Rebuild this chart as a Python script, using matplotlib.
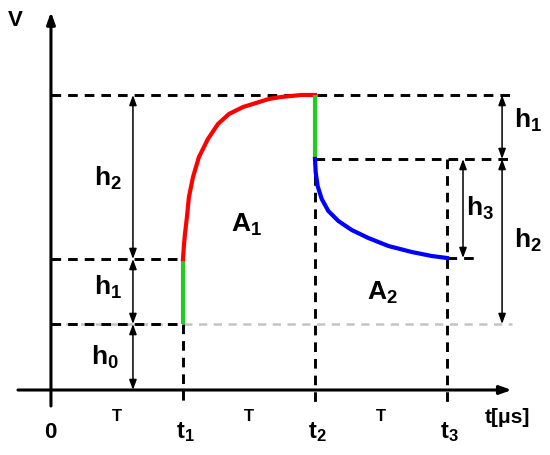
import numpy as np
import matplotlib
matplotlib.use('Agg')
import matplotlib.pyplot as plt

plt.rcParams['font.family'] = 'Liberation Sans'
plt.rcParams['font.weight'] = 'bold'
plt.rcParams['mathtext.fontset'] = 'custom'
plt.rcParams['mathtext.bf'] = 'Liberation Sans:bold'
plt.rcParams['mathtext.rm'] = 'Liberation Sans:bold'

# time in units of T, voltage in arbitrary units
t_marks = [1.0, 2.0, 3.0]
t_labels = [r'$\mathbf{t_1}$', r'$\mathbf{t_2}$', r'$\mathbf{t_3}$']
v_h0 = 66
v_h1 = 131
v_top = 295
v_mid = 231

# rising curve (red)
red_t = [1.0, 1.008, 1.015, 1.03, 1.045, 1.076, 1.121, 1.189, 1.265,
         1.348, 1.455, 1.553, 1.65, 1.742, 1.894, 2.0]
red_v = [131, 146, 156, 173, 193, 213, 233, 251, 266,
         276, 283, 287, 291, 293, 295, 295]
# falling curve (blue)
blue_t = [2.0, 2.005, 2.02, 2.051, 2.101, 2.177, 2.278, 2.404, 2.556,
          2.733, 2.884, 3.0]
blue_v = [231, 218, 204, 191, 179, 169, 160, 152, 144, 138, 134, 132]

fig = plt.figure(figsize=(5.5, 4.56), dpi=100)
ax = fig.add_axes([0, 0, 1, 1])
ax.set_xlim(-0.386, 3.78)
ax.set_ylim(-65, 391)
ax.axis('off')

dash = dict(color='black', lw=2.1, linestyle=(0, (3.3, 2.4)))
gray = dict(color='#c4c4c4', lw=1.8, linestyle=(0, (3.3, 2.6)))

# gray baseline at h0
ax.plot([0, 3.49], [v_h0, v_h0], **gray)
ax.plot([0, 1], [v_h0, v_h0], **dash)
# horizontal dashed
ax.plot([0, 3.5], [v_top, v_top], **dash)
ax.plot([2, 3.48], [v_mid, v_mid], **dash)
ax.plot([0, 1], [v_h1, v_h1], **dash)
ax.plot([3, 3.23], [blue_v[-1], blue_v[-1]], **dash)
# vertical dashed
ax.plot([1, 1], [v_h0, -14], **dash)
ax.plot([2, 2], [v_mid, -14], **dash)
ax.plot([3, 3], [v_mid, -14], **dash)

# axes
ax.annotate('', xy=(3.49, 0), xytext=(-0.25, 0),
            arrowprops=dict(arrowstyle='-|>,head_length=0.7,head_width=0.25',
                            color='black', lw=2.2, shrinkA=0, shrinkB=0))
ax.annotate('', xy=(0, 378), xytext=(0, -16),
            arrowprops=dict(arrowstyle='-|>,head_length=0.7,head_width=0.25',
                            color='black', lw=2.2, shrinkA=0, shrinkB=0))

# signal
ax.plot([1, 1], [v_h0, v_h1], color='#22cc22', lw=3, solid_capstyle='butt')
ax.plot(red_t, red_v, color='red', lw=3, solid_joinstyle='round')
ax.plot([2, 2], [v_top, v_mid], color='#22cc22', lw=3, solid_capstyle='butt')
ax.plot(blue_t, blue_v, color='blue', lw=3, solid_joinstyle='round')


def dim(x, y0, y1):
    ax.annotate('', xy=(x, y1), xytext=(x, y0),
                arrowprops=dict(arrowstyle='<|-|>,head_length=0.6,head_width=0.22',
                                color='black', lw=1.1, shrinkA=0, shrinkB=0))


dim(0.621, v_h1, v_top)
dim(0.621, v_h0, v_h1)
dim(0.621, 0, v_h0)
dim(3.417, v_mid, v_top)
dim(3.417, v_h0, v_mid)
dim(3.121, blue_v[-1], v_mid)

big = 19
ax.text(-0.273, 371, 'V', fontsize=16, ha='center', va='center')
ax.text(-0.008, -42, '0', fontsize=16, ha='center', va='center')
for tc in [0.5, 1.5, 2.5]:
    ax.text(tc, -26, 'T', fontsize=12, ha='center', va='center')
for tm, lab in zip(t_marks, t_labels):
    ax.text(tm + 0.02, -41, lab, fontsize=17, ha='center', va='center')
ax.text(3.455, -27, 't[μs]', fontsize=15, ha='center', va='center')

ax.text(0.43, 213, r'$\mathbf{h_2}$', fontsize=big, ha='center', va='center')
ax.text(0.43, 104, r'$\mathbf{h_1}$', fontsize=big, ha='center', va='center')
ax.text(0.41, 34, r'$\mathbf{h_0}$', fontsize=big, ha='center', va='center')
ax.text(1.485, 166, r'$\mathbf{A_1}$', fontsize=big, ha='center', va='center')
ax.text(2.51, 98, r'$\mathbf{A_2}$', fontsize=big, ha='center', va='center')
ax.text(3.61, 271, r'$\mathbf{h_1}$', fontsize=big, ha='center', va='center')
ax.text(3.25, 183, r'$\mathbf{h_3}$', fontsize=big, ha='center', va='center')
ax.text(3.61, 151, r'$\mathbf{h_2}$', fontsize=big, ha='center', va='center')

fig.savefig('out.png', dpi=100)
